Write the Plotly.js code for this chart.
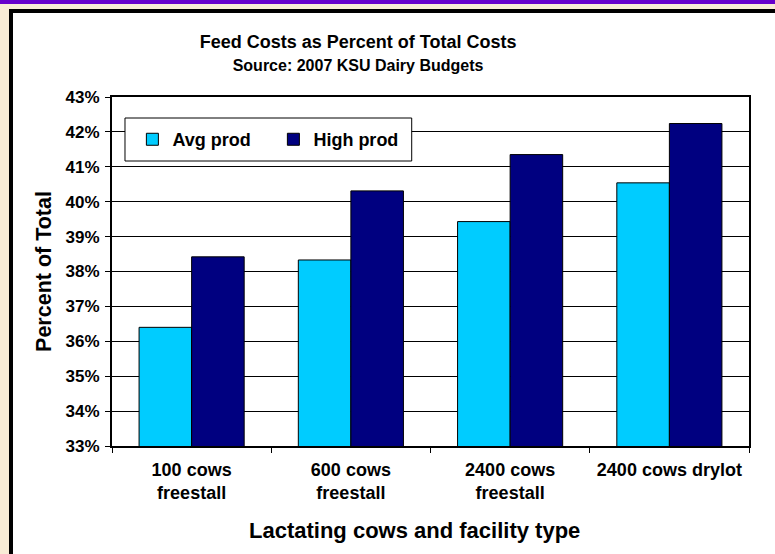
<!DOCTYPE html>
<html>
<head>
<meta charset="utf-8">
<script src="https://cdn.plot.ly/plotly-3.0.1.min.js"></script>
<style>
  html, body { margin: 0; padding: 0; width: 775px; height: 554px; overflow: hidden; background: #f8ecd6; }
  #topbar { position: absolute; left: 0; top: 0; width: 775px; height: 4px; background: #6600cc; }
  #frame { position: absolute; left: 9px; top: 9px; width: 766px; height: 545px; box-sizing: border-box;
           border-left: 4px solid #000; border-top: 4px solid #000; background: #fff; }
  #chart { position: absolute; left: 0; top: 0; width: 775px; height: 554px; }
</style>
</head>
<body>
<div id="topbar"></div>
<div id="frame"></div>
<div id="chart"></div>
<script>
// Feed costs as a share of total costs, by herd size and facility type
const categories = ['100 cows<br>freestall', '600 cows<br>freestall', '2400 cows<br>freestall', '2400 cows drylot'];
const avgProd  = [36.40, 38.33, 39.43, 40.54];
const highProd = [38.42, 40.31, 41.35, 42.24];
const seriesNames = ['Avg prod', 'High prod'];
const yRange = [33, 43];
const xTitle = 'Lactating cows and facility type';
const yTitle = 'Percent of Total';

const FONT = 'Liberation Sans, Arial, Helvetica, sans-serif';
const bold = (size) => ({ family: FONT, size: size, color: '#000', weight: 700 });

const traces = [
  { type: 'bar', name: seriesNames[0], x: categories, y: avgProd,
    marker: { color: '#00ccff', line: { color: '#000', width: 1 } } },
  { type: 'bar', name: seriesNames[1], x: categories, y: highProd,
    marker: { color: '#000080', line: { color: '#000', width: 1 } } }
];

const layout = {
  width: 775, height: 554,
  paper_bgcolor: 'rgba(0,0,0,0)', plot_bgcolor: '#fff',
  margin: { l: 112, r: 26, t: 97, b: 108 },
  barmode: 'group', bargap: 0.34, bargroupgap: 0,
  showlegend: true,
  title: {
    text: 'Feed Costs as Percent of Total Costs<br><span style="font-size:16px">Source: 2007 KSU Dairy Budgets</span>',
    font: bold(18), xref: 'container', x: 0.462, xanchor: 'center',
    yref: 'container', y: 0.914, yanchor: 'top'
  },
  xaxis: {
    type: 'category', tickson: 'boundaries', ticks: 'outside', ticklen: 5, tickcolor: '#000',
    ticklabelstandoff: 6,
    showline: true, linecolor: '#000', linewidth: 2, mirror: true,
    tickfont: bold(18)
  },
  yaxis: {
    range: yRange, dtick: 1, ticksuffix: '%', ticks: 'outside', ticklen: 5, tickcolor: '#000',
    ticklabelstandoff: 2,
    showgrid: true, gridcolor: '#000', gridwidth: 1, zeroline: false,
    showline: true, linecolor: '#000', linewidth: 2, mirror: true,
    tickfont: bold(17),
    title: { text: yTitle, font: bold(21.5), standoff: 8 }
  },
  // x-axis caption sits slightly left of the plot centre
  annotations: [
    { text: xTitle, xref: 'paper', yref: 'paper', x: 0.475, y: -0.2407,
      xanchor: 'center', yanchor: 'middle', showarrow: false, font: bold(22) }
  ],
  legend: {
    orientation: 'h', x: 0.032, xanchor: 'left', y: 0.878, yanchor: 'middle',
    bgcolor: 'rgba(0,0,0,0)', borderwidth: 0,
    font: bold(18), traceorder: 'normal', entrywidth: 96, entrywidthmode: 'pixels'
  },
  shapes: [
    { type: 'rect', xref: 'paper', yref: 'paper', x0: 0.0204, x1: 0.4705, y0: 0.8166, y1: 0.9398,
      fillcolor: '#fff', line: { color: '#000', width: 1 }, layer: 'above' }
  ]
};

Plotly.newPlot('chart', traces, layout, { displayModeBar: false, staticPlot: true });
</script>
</body>
</html>
